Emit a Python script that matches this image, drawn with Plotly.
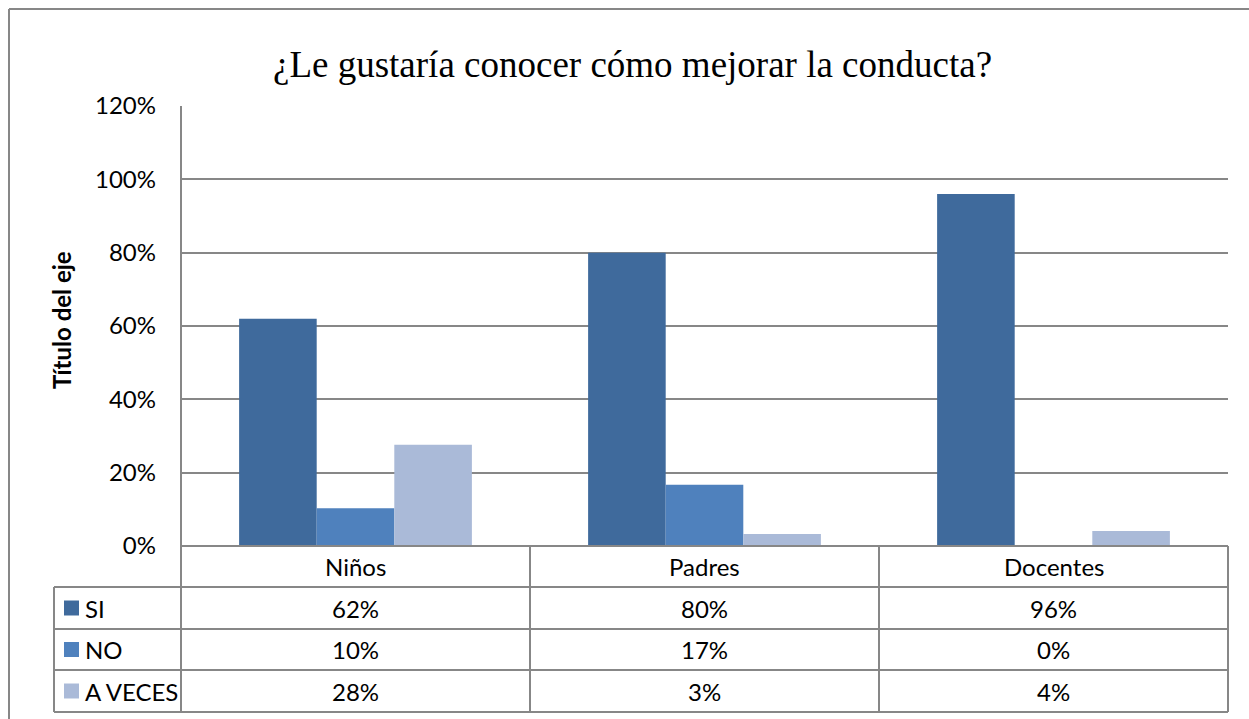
import plotly.graph_objects as go

categories = ["Niños", "Padres", "Docentes"]
series_names = ["SI", "NO", "A VECES"]
si_values = [0.62, 0.80, 0.96]
no_values = [0.103, 0.167, 0.0]
aveces_values = [0.276, 0.033, 0.041]
y_tick_values = [0, 0.2, 0.4, 0.6, 0.8, 1.0, 1.2]
y_tick_labels = ["0%", "20%", "40%", "60%", "80%", "100%", "120%"]
title_text = "¿Le gustaría conocer cómo mejorar la conducta?"
y_title_text = "Título del eje"

colors = ["#3F6A9C", "#4F81BD", "#AABAD8"]
W, H = 1249, 719
GRID = "#878787"
FONT = "Lato"
FS = 24


def px(x):
    return x / W


def py(y):
    return 1 - y / H


all_series = [si_values, no_values, aveces_values]

fig = go.Figure()
for name, vals, col in zip(series_names, all_series, colors):
    fig.add_trace(go.Bar(x=categories, y=vals, name=name, marker=dict(color=col, line=dict(width=0)),
                         showlegend=False))

# plot / table geometry (pixels)
PL, PR, PT, PB = 181, 1228, 106, 546
row_edges = [546, 587, 629, 670, 712]
LEG_L = 54

shapes = []
# outer border (top, left)
shapes.append(dict(type="line", xref="paper", yref="paper", x0=px(9), x1=px(1260), y0=py(9), y1=py(9),
                   line=dict(color=GRID, width=2)))
shapes.append(dict(type="line", xref="paper", yref="paper", x0=px(9), x1=px(9), y0=py(9), y1=py(740),
                   line=dict(color=GRID, width=2)))
# table horizontal lines
for i, yy in enumerate(row_edges):
    x0 = PL if i == 0 else LEG_L
    shapes.append(dict(type="line", xref="paper", yref="paper", x0=px(x0), x1=px(PR), y0=py(yy), y1=py(yy),
                       line=dict(color=GRID, width=2)))
# table vertical lines
for xx in [PL, PL + (PR - PL) / 3, PL + 2 * (PR - PL) / 3, PR]:
    y0 = PT if xx == PL else row_edges[0]
    shapes.append(dict(type="line", xref="paper", yref="paper", x0=px(xx), x1=px(xx), y0=py(y0), y1=py(row_edges[-1]),
                       line=dict(color=GRID, width=2)))
shapes.append(dict(type="line", xref="paper", yref="paper", x0=px(LEG_L), x1=px(LEG_L), y0=py(row_edges[1]),
                   y1=py(row_edges[-1]), line=dict(color=GRID, width=2)))

annotations = []
txt_font = dict(family=FONT, size=FS, color="#000000")
# category header row
for c in categories:
    annotations.append(dict(x=c, xref="x", y=py((row_edges[0] + row_edges[1]) / 2), yref="paper", text=c,
                            xanchor="center", yanchor="middle", showarrow=False, font=txt_font))
# data rows
for r, (name, vals, col) in enumerate(zip(series_names, all_series, colors)):
    yc = (row_edges[r + 1] + row_edges[r + 2]) / 2
    for c, v in zip(categories, vals):
        annotations.append(dict(x=c, xref="x", y=py(yc), yref="paper", text=f"{round(v * 100):d}%",
                                xanchor="center", yanchor="middle", showarrow=False, font=txt_font))
    shapes.append(dict(type="rect", xref="paper", yref="paper", x0=px(64), x1=px(79), y0=py(yc - 7.5),
                       y1=py(yc + 7.5), fillcolor=col, line=dict(width=0)))
    annotations.append(dict(x=px(83), xref="paper", y=py(yc), yref="paper", text=name, xanchor="left",
                            yanchor="middle", showarrow=False, font=txt_font))

# titles
annotations.append(dict(x=px(632), xref="paper", y=py(65), yref="paper", text=title_text, showarrow=False,
                        xanchor="center", yanchor="middle",
                        font=dict(family="Liberation Serif", size=37, color="#000000")))
annotations.append(dict(x=px(61), xref="paper", y=py(320), yref="paper", text=f"<b>{y_title_text}</b>",
                        textangle=-90, showarrow=False, xanchor="center", yanchor="middle",
                        font=dict(family=FONT, size=FS, color="#000000")))

fig.update_layout(
    width=W, height=H,
    margin=dict(l=0, r=0, t=0, b=0, pad=0),
    paper_bgcolor="white", plot_bgcolor="white",
    barmode="group", bargap=0.333, bargroupgap=0,
    shapes=shapes, annotations=annotations,
    xaxis=dict(domain=[px(PL), px(PR)], range=[-0.5, 2.5], showticklabels=False, showgrid=False,
               zeroline=False, showline=False, fixedrange=True, automargin=False),
    yaxis=dict(domain=[py(PB), py(PT)], range=[0, 1.2], tickvals=y_tick_values, ticktext=y_tick_labels,
               showgrid=True, gridcolor=GRID, gridwidth=2, zeroline=False, showline=False, automargin=False,
               ticklabelstandoff=24, tickfont=dict(family=FONT, size=FS, color="#000000"), fixedrange=True),
    font=dict(family=FONT),
)

fig.write_html("out.html", config={"displayModeBar": False},
               post_script="document.body.style.margin='0';document.body.style.overflow='hidden';")
